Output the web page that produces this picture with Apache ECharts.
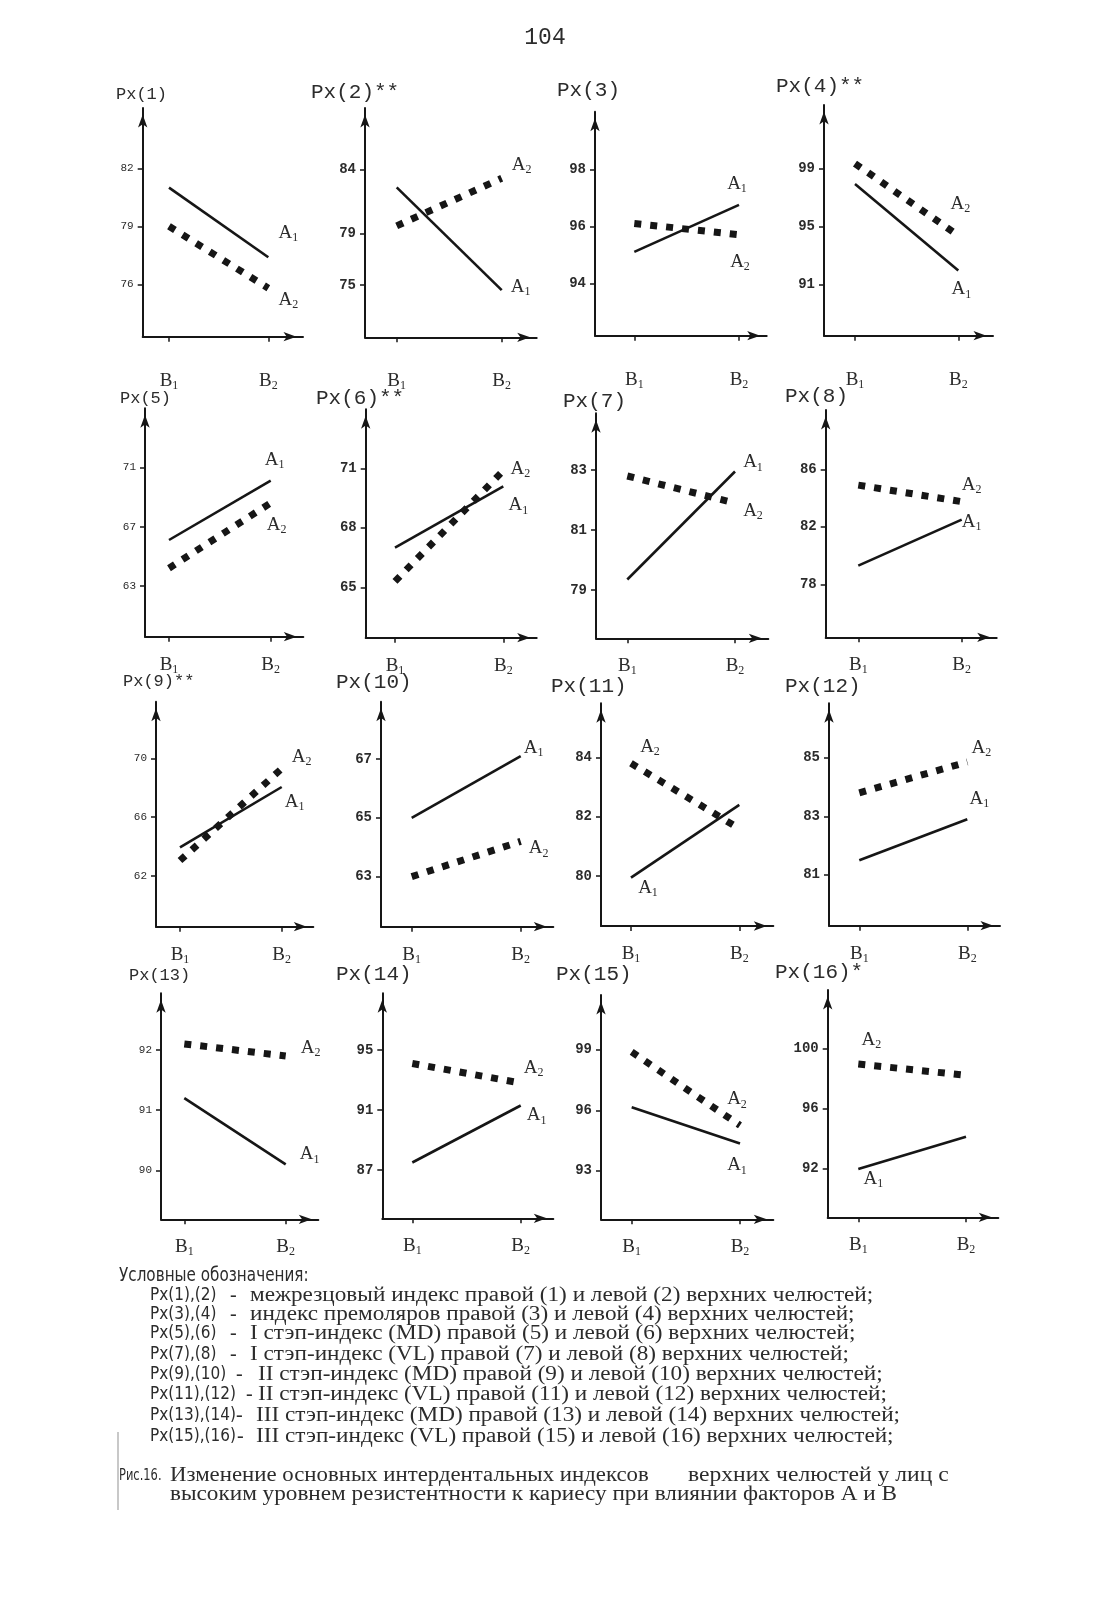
<!DOCTYPE html>
<html><head><meta charset="utf-8">
<script src="https://cdn.jsdelivr.net/npm/echarts@6/dist/echarts.min.js"></script>
<style>html,body{margin:0;padding:0;background:#fff}#c{width:1116px;height:1598px}</style>
</head><body><div id="c"></div>
<script>
// ---------------- DATA ----------------
const bLevels = ['B1', 'B2'];
const seriesNames = ['A1', 'A2'];
const chartTitles = ['Px(1)', 'Px(2)**', 'Px(3)', 'Px(4)**', 'Px(5)', 'Px(6)**', 'Px(7)', 'Px(8)',
  'Px(9)**', 'Px(10)', 'Px(11)', 'Px(12)', 'Px(13)', 'Px(14)', 'Px(15)', 'Px(16)*'];
const yTicks = [[76,79,82],[75,79,84],[94,96,98],[91,95,99],[63,67,71],[65,68,71],[79,81,83],[78,82,86],
  [62,66,70],[63,65,67],[80,82,84],[81,83,85],[90,91,92],[87,91,95],[93,96,99],[92,96,100]];
const a1Values = [[81.0,77.4],[82.6,74.6],[95.1,96.75],[97.95,92.0],[66.1,70.1],[67.0,70.1],[79.35,82.95],[79.3,82.5],
  [63.95,68.05],[65.0,67.1],[79.95,82.4],[81.5,82.9],[91.2,90.1],[87.5,91.3],[96.15,94.35],[91.95,94.1]];
const a2Values = [[79.0,75.8],[79.6,83.3],[96.1,95.7],[99.35,94.4],[64.2,68.6],[65.3,70.9],[82.8,81.9],[84.9,83.75],
  [63.05,69.3],[63.0,64.2],[83.8,81.6],[83.8,84.85],[92.1,91.9],[94.1,92.8],[98.9,95.25],[98.95,98.2]];
const pageNumber = '104';
const legendHeading = 'Условные обозначения:';
const legendKeys = ['Px(1),(2)','Px(3),(4)','Px(5),(6)','Px(7),(8)','Px(9),(10)','Px(11),(12)','Px(13),(14)','Px(15),(16)'];
const legendTexts = [
  'межрезцовый индекс правой (1) и левой (2) верхних челюстей;',
  'индекс премоляров правой (3) и левой (4) верхних челюстей;',
  'I стэп-индекс (MD) правой (5) и левой (6) верхних челюстей;',
  'I стэп-индекс (VL) правой (7) и левой (8) верхних челюстей;',
  'II стэп-индекс (MD) правой (9) и левой (10) верхних челюстей;',
  'II стэп-индекс (VL) правой (11) и левой (12) верхних челюстей;',
  'III стэп-индекс (MD) правой (13) и левой (14) верхних челюстей;',
  'III стэп-индекс (VL) правой (15) и левой (16) верхних челюстей;'
];
const captionPrefix = 'Рис.16.';
const captionLine1a = 'Изменение основных интердентальных индексов';
const captionLine1b = 'верхних челюстей у лиц с';
const captionLine2 = 'высоким уровнем резистентности к кариесу при влиянии факторов А и В';

// ---------------- LAYOUT (positions / styles) ----------------
// left, arrowTop, arrowRight, bottom, B1 x, B2 x, yMin, yMax
const layout = [
  [142.7,108,303,336.7,169,268.3,73.29,85.12],
  [365,108,536.7,337.3,396.7,501.7,70.93,88.77],
  [595,111.7,766.7,335.7,634.3,739,92.16,100.02],
  [824,105,993,335.7,855,958.3,87.51,103.38],
  [145,408.3,303.3,636.7,169,270.7,59.58,74.98],
  [365.7,409.3,536.7,637.7,395,503.3,62.45,74.0],
  [596,413.3,768.3,638.3,627.3,735,77.39,84.89],
  [825.7,410,996.7,637.3,858.3,961.7,74.31,90.13],
  [156,701.7,313.3,926.7,180,281.7,58.55,73.85],
  [381,701.7,553.3,926.7,411.7,520.7,61.3,68.95],
  [601,703.3,773.3,926,631,739.3,78.32,85.82],
  [829,703.3,1000,925.7,859.3,967.3,79.27,86.85],
  [161,993.3,318.3,1219.3,184.3,285.7,89.19,92.94],
  [382.3,993.3,553.3,1218.3,412.3,520.7,83.78,98.78],
  [601,995,773.3,1219.3,631.7,740,90.58,101.73],
  [827.7,990,998.3,1217.3,858.3,966,88.73,103.89]
];
// title x, title center y, font size
const titlePos = [[116,94,17],[311,92.7,21],[557,90.7,21],[776,86.7,21],[120,398.3,17],[316,398.3,21],[563,401.7,21],[785,396.7,21],
  [123,681.7,17],[336,682.7,21],[551,686.7,21],[785,686.7,21],[129,975,17],[336,974,21],[556,974,21],[775,972.7,21]];
// label anchor index (0=B1,1=B2) and offset for A1 then A2
const labelPos = [
  [1,20,-24, 1,20,12],[1,19,-3, 1,20,-13],[1,-2,-21, 1,1,27],[1,3,19, 1,2,-32],
  [1,4,-21, 1,6,22],[1,15,19, 1,17,-2],[1,18,-9, 1,18,8],[1,10,2, 1,10,-17],
  [1,13,15, 1,20,-12],[1,13,-8, 1,18,7],[0,17,10, 0,19,-16],[1,12,-20, 1,14,-14],
  [1,24,-10, 1,25,-8],[1,16,10, 1,13,-15],[1,-3,22, 1,-3,-26],[0,15,10, 0,13,-24]
];
const smallTick = [0,4,8,12];
const INK = '#161616';
const TXT = '#2c2c2c';
const serif = '"Liberation Serif","DejaVu Serif",serif';
const mono = '"Liberation Mono","DejaVu Sans Mono",monospace';
const narrow = '"Liberation Sans Narrow","DejaVu Sans Condensed","Liberation Sans",sans-serif';
const SX = 1.16; // horizontal stretch of the body text

function subRich(s) { return '{b|' + s[0] + '}{s|' + s.slice(1) + '}'; }
const richAB = {
  b: {fontFamily: serif, fontSize: 19, color: TXT, lineHeight: 22},
  s: {fontFamily: serif, fontSize: 12, color: TXT, lineHeight: 22, verticalAlign: 'bottom'}
};

const grids = [], xAxes = [], yAxes = [], series = [], graphics = [];
layout.forEach((L, i) => {
  const [left, top, right, bottom, b1, b2, ymin, ymax] = L;
  const span = b2 - b1;
  const row = Math.floor(i / 4);
  grids.push({left: left, top: top, width: right - left, height: bottom - top});
  const axisLine = {show: true, onZero: false, symbol: ['none', 'arrow'], symbolSize: [7, 13], symbolOffset: [0, -6.5],
    lineStyle: {color: INK, width: 2}};
  xAxes.push({
    type: 'value', gridIndex: i, min: 1 - (b1 - left) / span, max: 2 + (right - b2) / span,
    splitLine: {show: false}, axisLine: axisLine,
    axisTick: {show: true, customValues: [1, 2], length: 5, lineStyle: {color: INK, width: 1.5}},
    axisLabel: {show: true, customValues: [1, 2], margin: row === 0 ? 33 : 17,
      formatter: v => subRich(bLevels[Math.round(v) - 1]), rich: richAB}
  });
  const sm = smallTick.indexOf(i) >= 0;
  yAxes.push({
    type: 'value', gridIndex: i, min: ymin, max: ymax,
    splitLine: {show: false}, axisLine: axisLine,
    axisTick: {show: true, customValues: yTicks[i], length: 5, lineStyle: {color: INK, width: 1.5}},
    axisLabel: {show: true, customValues: yTicks[i], margin: 9, fontFamily: mono, fontSize: sm ? 11 : 14,
      color: TXT, fontWeight: sm ? 'normal' : 'bold'}
  });
  const lp = labelPos[i];
  [a1Values[i], a2Values[i]].forEach((vals, k) => {
    const anchor = lp[k * 3], dx = lp[k * 3 + 1], dy = lp[k * 3 + 2];
    series.push({
      type: 'line', name: seriesNames[k], xAxisIndex: i, yAxisIndex: i, silent: true, animation: false,
      symbol: 'circle', symbolSize: 1, itemStyle: {color: 'rgba(0,0,0,0)'},
      lineStyle: k === 0 ? {color: INK, width: 2.6} : {color: INK, width: 7, type: [7, 9], cap: 'butt'},
      data: vals.map((v, j) => ({
        value: [j + 1, v],
        label: j === anchor ? {show: true, position: 'inside', offset: [dx, dy],
          formatter: subRich(seriesNames[k]), rich: richAB} : {show: false}
      }))
    });
  });
  const tp = titlePos[i];
  graphics.push({type: 'text', x: tp[0], y: tp[1], silent: true,
    style: {text: chartTitles[i], font: 'normal ' + tp[2] + 'px ' + mono, fill: TXT,
      align: 'left', verticalAlign: 'middle', textAlign: 'left', textVerticalAlign: 'middle'}});
});

function txt(text, x, y, font, align, sx) {
  return {type: 'text', x: x, y: y, scaleX: sx || 1, silent: true,
    style: {text: text, font: font, fill: TXT, align: align || 'left', verticalAlign: 'middle',
      textAlign: align || 'left', textVerticalAlign: 'middle'}};
}
graphics.push(txt(pageNumber, 545, 38, 'normal 23px ' + mono, 'center'));
graphics.push(txt(legendHeading, 119, 1276, 'normal 19px ' + narrow, 'left', 0.89));
const legY = [1295.5, 1315, 1334, 1354.5, 1375, 1395, 1415.6, 1437];
const dashX = [230, 230, 230, 230, 236, 246, 236, 237];
const descX = [250, 250, 250, 250, 258, 258, 256, 256];
legendKeys.forEach((k, i) => {
  graphics.push(txt(k, 150, legY[i], 'normal 17px ' + narrow));
  graphics.push(txt('-', dashX[i], legY[i], 'normal 20px ' + serif));
  graphics.push(txt(legendTexts[i], descX[i], legY[i], 'normal 20px ' + serif, 'left', SX));
});
graphics.push(txt(captionPrefix, 119, 1476, 'normal 15px ' + narrow, 'left', 0.85));
graphics.push(txt(captionLine1a, 170, 1476, 'normal 20px ' + serif, 'left', 1.14));
graphics.push(txt(captionLine1b, 688, 1476, 'normal 20px ' + serif, 'left', 1.18));
graphics.push(txt(captionLine2, 170, 1495, 'normal 20px ' + serif, 'left', 1.16));
graphics.push({type: 'line', silent: true, shape: {x1: 118, y1: 1432, x2: 118, y2: 1510},
  style: {stroke: '#c8c8c8', lineWidth: 2}});

const chart = echarts.init(document.getElementById('c'), null, {renderer: 'canvas'});
chart.setOption({
  backgroundColor: '#ffffff',
  animation: false,
  textStyle: {fontFamily: serif},
  grid: grids, xAxis: xAxes, yAxis: yAxes, series: series, graphic: graphics
});
</script></body></html>
